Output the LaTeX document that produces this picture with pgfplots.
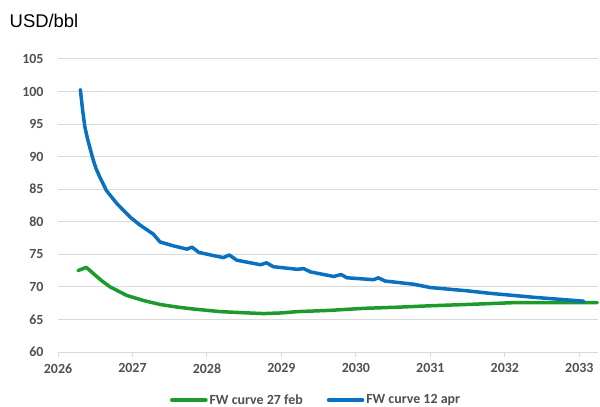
\documentclass[border=0pt]{standalone}
\usepackage{pgfplots}
\pgfplotsset{compat=1.18}
\usepackage{fontspec}
\setmainfont{Carlito}
\newfontfamily\arialfont{Liberation Sans}
\definecolor{fwblue}{HTML}{0A70C0}
\definecolor{fwgreen}{HTML}{1C9A2C}
\definecolor{gridgray}{HTML}{D9D9D9}
\definecolor{tickgray}{HTML}{505050}
\begin{document}
\begin{tikzpicture}
\useasboundingbox (0bp,0bp) rectangle (600bp,407bp);
\node[anchor=base west, inner sep=0pt, font=\arialfont\fontsize{18.5}{18.5}\selectfont] at (9.5bp,379bp) {USD/bbl};
\begin{axis}[
  at={(58bp,55bp)}, anchor=south west,
  scale only axis, width=540bp, height=293bp,
  xmin=2026, xmax=2033.25, ymin=60, ymax=105,
  xtick={2026,2027,...,2033}, ytick={60,65,...,105},
  axis x line=bottom, axis y line=left,
  x axis line style={draw=gridgray, line width=1bp, -},
  y axis line style={draw=none},
  ytick style={draw=none},
  xtick style={draw=gridgray, line width=1bp},
  tick align=outside, major tick length=5bp,
  ymajorgrids, grid style={gridgray, line width=1bp},
  /pgf/number format/.cd, 1000 sep={}, assume math mode=true, /pgfplots/.cd,
  ticklabel style={font=\bfseries\fontsize{14}{14}\selectfont, text=tickgray},
  xticklabel style={yshift=-3bp},
  yticklabel style={xshift=-6bp},
  clip=false,
  legend columns=2,
  legend style={at={(0.478,-0.164)}, anchor=center, draw=none, fill=none,
    font=\bfseries\fontsize{14}{14}\selectfont, text=tickgray,
    /tikz/every even column/.append style={column sep=22bp}},
  legend image code/.code={\draw[#1] (0bp,0bp) -- (34bp,0bp);},
]
\addplot[fwgreen, line width=3.5bp, line join=round, line cap=round] coordinates {
(2026.27,72.5) (2026.38,73.0) (2026.47,72.1) (2026.58,71.0) (2026.70,70.0)
(2026.92,68.7) (2027.15,67.9) (2027.37,67.3) (2027.60,66.9) (2027.82,66.6)
(2028.18,66.2) (2028.45,66.05) (2028.76,65.9) (2029.0,66.0) (2029.21,66.2)
(2029.66,66.4) (2030.10,66.7) (2030.60,66.9) (2031.00,67.1) (2031.49,67.3)
(2032.17,67.6) (2032.7,67.6) (2033.24,67.6)
};
\addlegendentry{FW curve 27 feb}
\addplot[fwblue, line width=3.5bp, line join=round, line cap=round] coordinates {
(2026.30,100.3) (2026.33,97.2) (2026.36,94.6) (2026.395,92.8) (2026.43,91.3)
(2026.47,89.6) (2026.51,88.2) (2026.56,86.9)
(2026.65,84.8) (2026.79,82.8) (2026.97,80.7) (2027.10,79.5) (2027.28,78.1)
(2027.37,76.9) (2027.55,76.3) (2027.73,75.8) (2027.80,76.1) (2027.89,75.3)
(2028.09,74.8) (2028.22,74.5) (2028.30,74.9) (2028.40,74.1) (2028.72,73.4)
(2028.80,73.7) (2028.89,73.1) (2029.21,72.7) (2029.30,72.8) (2029.39,72.3)
(2029.70,71.6) (2029.80,71.9) (2029.88,71.4) (2030.24,71.1) (2030.30,71.4)
(2030.39,70.9) (2030.78,70.4) (2031.00,69.9) (2031.49,69.4) (2031.81,69.0)
(2032.39,68.4) (2033.06,67.8)
};
\addlegendentry{FW curve 12 apr}
\end{axis}
\end{tikzpicture}
\end{document}
